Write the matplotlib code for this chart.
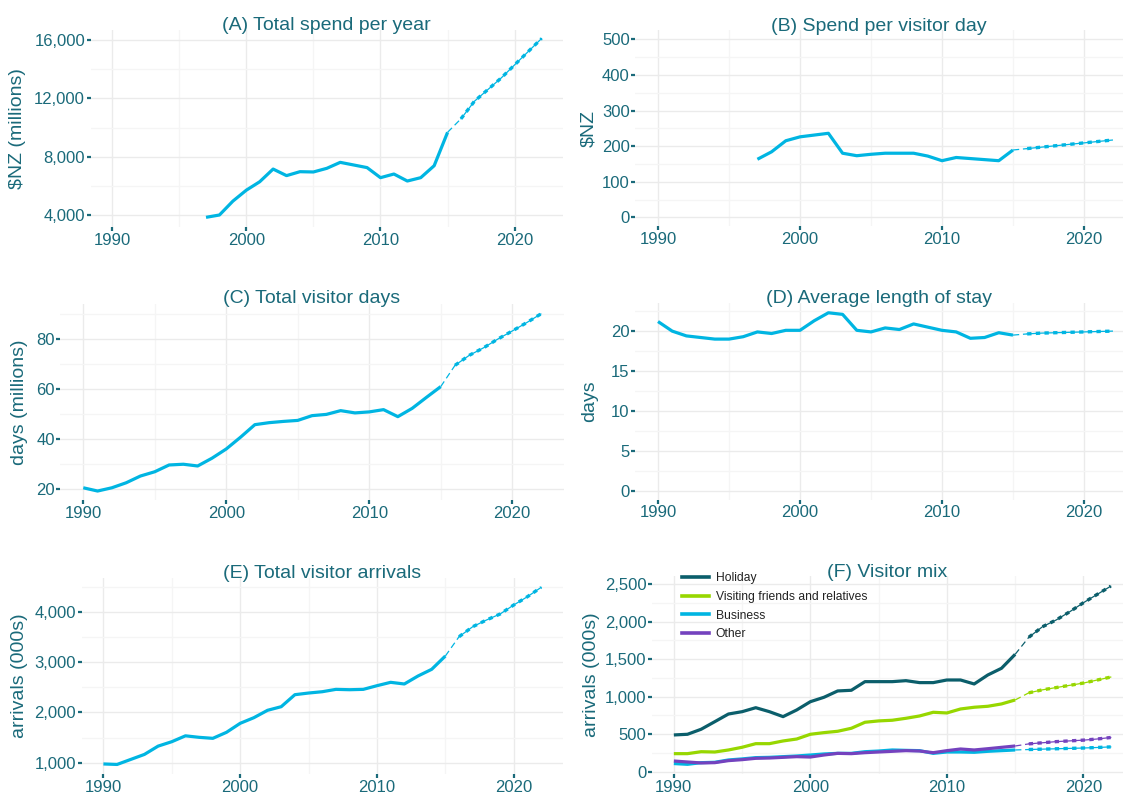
import matplotlib
matplotlib.use("Agg")
import matplotlib.pyplot as plt
from matplotlib.ticker import FuncFormatter, FixedLocator

plt.rcParams['font.family'] = ['Liberation Sans', 'DejaVu Sans']

# --- data -----------------------------------------------------------------
years = list(range(1990, 2016))
fc_years = list(range(2016, 2023))

spend_years = list(range(1997, 2016))
spend_total = [3840, 4000, 4950, 5700, 6280, 7150, 6700, 6970, 6950, 7200,
               7610, 7430, 7250, 6560, 6810, 6330, 6560, 7380, 9670]
spend_total_fc = [10600, 11800, 12600, 13400, 14300, 15200, 16100]

spend_day = [163, 184, 215, 226, 231, 236, 180, 173, 177, 180,
             180, 180, 172, 159, 168, 165, 162, 159, 189]
spend_day_fc = [193, 197, 201, 205, 209, 213, 217]

visitor_days = [20.6, 19.3, 20.6, 22.6, 25.3, 27.0, 29.7, 30.0, 29.3, 32.4,
                36.1, 40.8, 45.8, 46.6, 47.1, 47.5, 49.4, 49.9, 51.4, 50.5,
                50.9, 51.8, 49.0, 52.3, 56.7, 61.0]
visitor_days_fc = [69.5, 73.5, 76.5, 80.0, 83.2, 86.5, 90.0]

stay_length = [21.2, 20.0, 19.4, 19.2, 19.0, 19.0, 19.3, 19.9, 19.7, 20.1,
               20.1, 21.3, 22.3, 22.1, 20.1, 19.9, 20.4, 20.2, 20.9, 20.5,
               20.1, 19.9, 19.1, 19.2, 19.8, 19.5]
stay_length_fc = [19.65, 19.75, 19.8, 19.85, 19.9, 19.95, 20.0]

arrivals = [975, 965, 1065, 1165, 1330, 1418, 1535, 1505, 1485, 1605,
            1784, 1896, 2043, 2115, 2354, 2387, 2413, 2460, 2453, 2460,
            2533, 2600, 2567, 2726, 2859, 3124]
arrivals_fc = [3508, 3707, 3840, 3960, 4140, 4305, 4490]

mix_labels = ['Holiday', 'Visiting friends and relatives', 'Business', 'Other']
holiday = [489, 498, 565, 666, 768, 799, 852, 799, 733, 822,
           932, 991, 1075, 1084, 1199, 1199, 1199, 1212, 1186, 1186,
           1221, 1221, 1168, 1288, 1377, 1563]
holiday_fc = [1790, 1930, 2020, 2130, 2250, 2360, 2470]
vfr = [240, 240, 266, 262, 289, 325, 373, 373, 409, 435,
       498, 520, 538, 578, 658, 676, 685, 711, 742, 791,
       782, 835, 858, 871, 902, 955]
vfr_fc = [1050, 1090, 1120, 1150, 1180, 1220, 1260]
business = [108, 98, 120, 125, 156, 170, 187, 191, 200, 209,
            222, 236, 244, 244, 266, 275, 289, 284, 280, 244,
            262, 262, 258, 271, 280, 289]
business_fc = [295, 300, 305, 310, 315, 322, 330]
other = [142, 129, 116, 120, 147, 160, 178, 182, 191, 200,
         195, 222, 244, 240, 253, 262, 271, 280, 275, 253,
         280, 302, 289, 306, 324, 342]
other_fc = [370, 385, 400, 410, 420, 435, 455]

# --- style ----------------------------------------------------------------
TEXT = '#1A6A7A'
CYAN = '#00B5E2'
mix_colors = ['#0B5E6B', '#97D700', '#00B5E2', '#7442BE']
W, H = 1123, 794

fig = plt.figure(figsize=(W / 100, H / 100), dpi=100)


def make_axes(left, right, top, bottom):
    return fig.add_axes([left / W, 1 - bottom / H, (right - left) / W, (bottom - top) / H])


def style(ax, title, ylabel, xlim, ylim, yticks, label_x, title_y, comma=False):
    ax.set_xlim(*xlim)
    ax.set_ylim(*ylim)
    ax.xaxis.set_major_locator(FixedLocator([1990, 2000, 2010, 2020]))
    ax.xaxis.set_minor_locator(FixedLocator([1995, 2005, 2015]))
    ax.yaxis.set_major_locator(FixedLocator(yticks))
    step = yticks[1] - yticks[0]
    ax.yaxis.set_minor_locator(FixedLocator([t + step / 2 for t in [yticks[0] - step] + yticks]))
    if comma:
        ax.yaxis.set_major_formatter(FuncFormatter(lambda v, p: f'{v:,.0f}'))
    ax.grid(which='major', color='#EBEBEB', lw=1.0)
    ax.grid(which='minor', color='#F5F5F5', lw=1.0)
    ax.set_axisbelow(True)
    for s in ax.spines.values():
        s.set_visible(False)
    ax.tick_params(which='major', length=3, width=1.6, color=TEXT, labelcolor=TEXT,
                   labelsize=12, pad=1)
    ax.tick_params(which='minor', length=0)
    bb = ax.get_position()
    fig.text((bb.x0 + bb.x1) / 2, 1 - title_y / H, title, ha='center', va='baseline',
             fontsize=14, color=TEXT)
    fig.text(label_x / W, (bb.y0 + bb.y1) / 2, ylabel, rotation=90, ha='center',
             va='center', fontsize=14, color=TEXT)


def draw(ax, x, y, fc, color):
    # history solid, short thin link, then dashed forecast
    ax.plot(x, y, color=color, lw=2.3, solid_capstyle='butt', zorder=3)
    ax.plot([x[-1], fc_years[0]], [y[-1], fc[0]], color=color, lw=0.9,
            dashes=(5, 3), zorder=3)
    ax.plot(fc_years, fc, color=color, lw=0.9, zorder=3)
    ax.plot(fc_years, fc, color=color, lw=2.4, dashes=(1.3, 1.3), zorder=3)


# (A)
ax = make_axes(90.6, 563, 30, 227)
draw(ax, spend_years, spend_total, spend_total_fc, CYAN)
style(ax, '(A) Total spend per year', '$NZ (millions)', (1988.4, 2023.6), (3177, 16686),
      [4000, 8000, 12000, 16000], 18, 30, comma=True)

# (B)
ax = make_axes(635.3, 1123, 30.4, 226.2)
draw(ax, spend_years, spend_day, spend_day_fc, CYAN)
style(ax, '(B) Spend per visitor day', '$NZ', (1988.4, 2022.75), (-25, 525),
      [0, 100, 200, 300, 400, 500], 589, 31)

# (C)
ax = make_axes(60.4, 563.7, 303.7, 500.3)
draw(ax, years, visitor_days, visitor_days_fc, CYAN)
style(ax, '(C) Total visitor days', 'days (millions)', (1988.4, 2023.6), (15.6, 94.1),
      [20, 40, 60, 80], 20, 303)

# (D)
ax = make_axes(635.3, 1123, 303.2, 499.6)
draw(ax, years, stay_length, stay_length_fc, CYAN)
style(ax, '(D) Average length of stay', 'days', (1988.4, 2022.75), (-1.12, 23.5),
      [0, 5, 10, 15, 20], 590, 303)

# (E)
ax = make_axes(81.5, 563, 578, 774)
draw(ax, years, arrivals, arrivals_fc, CYAN)
style(ax, '(E) Total visitor arrivals', 'arrivals (000s)', (1988.4, 2023.6), (775, 4677),
      [1000, 2000, 3000, 4000], 20, 578, comma=True)

# (F)
ax = make_axes(652, 1123, 576, 774)
series = [(holiday, holiday_fc), (vfr, vfr_fc), (business, business_fc), (other, other_fc)]
handles = []
for (hist, fc), col, lab in zip(series, mix_colors, mix_labels):
    draw(ax, years, hist, fc, col)
    h, = ax.plot([], [], color=col, lw=2.6, label=lab)
    handles.append(h)
style(ax, '(F) Visitor mix', 'arrivals (000s)', (1988.4, 2022.9), (-31, 2606),
      [0, 500, 1000, 1500, 2000, 2500], 592, 577, comma=True)
ax.legend(handles=handles, loc='upper left', bbox_to_anchor=(682 / W, 1 - 572 / H),
          bbox_transform=fig.transFigure, frameon=False, fontsize=8.7,
          handlelength=2.2, handletextpad=0.6, labelspacing=0.56, borderpad=0,
          borderaxespad=0, labelcolor='#222222')

fig.savefig('out.png', dpi=100)
